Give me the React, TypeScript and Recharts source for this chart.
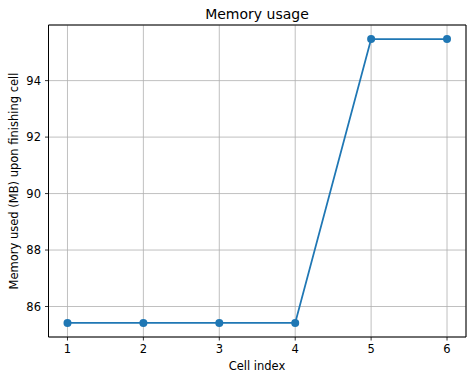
import { CartesianGrid, Line, LineChart, ReferenceArea, XAxis, YAxis } from "recharts";

const cells = [1, 2, 3, 4, 5, 6];
const memoryMb = [85.42, 85.42, 85.42, 85.42, 95.47, 95.47];
const xTicks = [1, 2, 3, 4, 5, 6];
const yTicks = [86, 88, 90, 92, 94];

const data = cells.map((c, i) => ({ cell: c, mem: memoryMb[i] }));

const font = "DejaVu Sans, sans-serif";

export default function App() {
  return (
    <div style={{ position: "fixed", left: 0, top: 0, width: 474, height: 381, background: "#fff" }}>
      <LineChart
        width={474}
        height={381}
        data={data}
        margin={{ top: 25, right: 8, bottom: 0, left: 0 }}
        style={{ fontFamily: font }}
      >
        <text x={257} y={19} textAnchor="middle" fontSize={14} fill="#000">
          Memory usage
        </text>
        <text
          x={18}
          y={181}
          textAnchor="middle"
          fontSize={11.5}
          fill="#000"
          transform="rotate(-90 18 181)"
        >
          Memory used (MB) upon finishing cell
        </text>
        <text x={257} y={370} textAnchor="middle" fontSize={11.5} fill="#000">
          Cell index
        </text>
        <CartesianGrid stroke="#b0b0b0" strokeWidth={0.8} />
        <XAxis
          dataKey="cell"
          type="number"
          domain={[0.75, 6.25]}
          ticks={xTicks}
          height={44}
          tickSize={3.5}
          axisLine={false}
          tickLine={{ stroke: "#000", strokeWidth: 0.8 }}
          tick={{ fill: "#000", fontSize: 11.5, dy: 2 }}
        />
        <YAxis
          type="number"
          domain={[84.92, 95.97]}
          ticks={yTicks}
          width={48.5}
          tickSize={3.5}
          axisLine={false}
          tickLine={{ stroke: "#000", strokeWidth: 0.8 }}
          tick={{ fill: "#000", fontSize: 11.5, dx: -2 }}
        />
        <ReferenceArea
          x1={0.75}
          x2={6.25}
          y1={84.92}
          y2={95.97}
          fill="none"
          stroke="#000"
          strokeWidth={1}
          ifOverflow="visible"
        />
        <Line
          dataKey="mem"
          stroke="#1f77b4"
          strokeWidth={1.8}
          dot={{ r: 4, fill: "#1f77b4", stroke: "#1f77b4", strokeWidth: 0 }}
          isAnimationActive={false}
        />
      </LineChart>
    </div>
  );
}
